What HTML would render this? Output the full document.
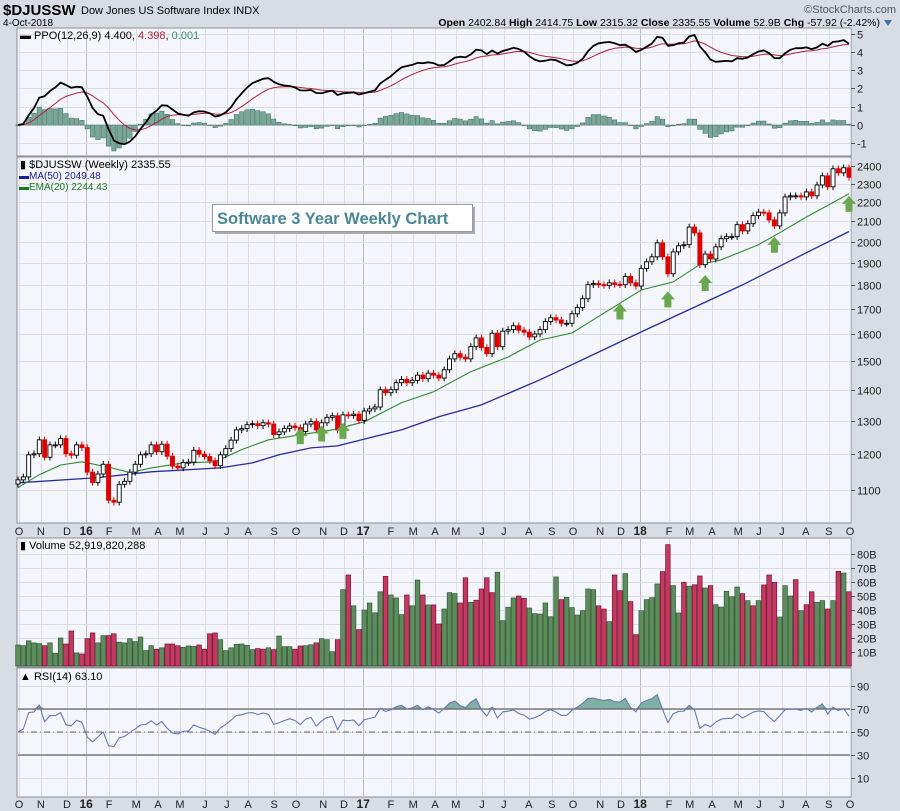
<!DOCTYPE html>
<html><head><meta charset="utf-8">
<style>
html,body{margin:0;padding:0;background:#d8dce4;}
svg{display:block;font-family:"Liberation Sans",sans-serif;}
</style></head>
<body>
<svg id="chart" width="900" height="811" viewBox="0 0 900 811" xmlns="http://www.w3.org/2000/svg">
  <rect x="0" y="0" width="900" height="811" fill="#d8dce4"/>
  <text x="3" y="15" font-size="15" font-weight="bold" fill="#000">$DJUSSW</text>
  <text x="81" y="14" font-size="11" fill="#000">Dow Jones US Software Index  INDX</text>
  <text x="3" y="26" font-size="10" fill="#000">4-Oct-2018</text>
  <text x="896" y="13" font-size="11" fill="#555" text-anchor="end">©StockCharts.com</text>
  <text x="880" y="26" font-size="10.5" fill="#000" text-anchor="end"><tspan font-weight="bold">Open</tspan> 2402.84 <tspan font-weight="bold">High</tspan> 2414.75 <tspan font-weight="bold">Low</tspan> 2315.32 <tspan font-weight="bold">Close</tspan> 2335.55 <tspan font-weight="bold">Volume</tspan> 52.9B <tspan font-weight="bold">Chg</tspan> -57.92 (-2.42%)</text>
  <path d="M884 20 L892 20 L888 26 Z" fill="#4a6fa5"/>
  <g id="layers"></g>
</svg>
<script>
// ---------- DATA ----------
const closes = [1127,1135,1197,1200,1241,1190,1226,1226,1245,1200,1196,1226,1218,1148,1120,1143,1170,1073,1068,1115,
1123,1148,1170,1197,1200,1226,1206,1228,1193,1165,1160,1175,1176,1210,1199,1192,1180,1166,1197,1215,
1240,1271,1275,1287,1290,1284,1293,1289,1257,1265,1275,1283,1278,1266,1289,1297,1271,1293,1310,1315,
1271,1318,1316,1320,1300,1330,1337,1343,1400,1390,1400,1424,1435,1424,1432,1450,1438,1457,1450,1440,
1469,1508,1527,1514,1508,1553,1586,1550,1527,1604,1553,1612,1618,1633,1616,1608,1590,1601,1618,1650,
1665,1656,1643,1643,1681,1706,1743,1803,1808,1803,1800,1811,1804,1803,1839,1811,1797,1875,1905,1928,
1994,1928,1851,1951,1980,1985,2071,2042,1892,1941,1918,1975,2014,2024,2024,2083,2052,2088,2129,2147,
2143,2107,2077,2143,2227,2233,2233,2227,2254,2233,2292,2343,2282,2383,2360,2389,2335];
const volumes = [15,14.5,18,16.5,16,14.5,16.5,9,20,15.7,25,9.3,8.6,19.5,23.6,16.5,21.7,21.7,23,17,
16.5,19.5,17.4,20.7,11,14.5,12,13,15.7,15.7,14.5,13.3,14.3,14,15,12,23,23.6,18.8,11,
13,15.5,15.7,14.8,11.7,12.4,12,13,11.7,21.4,13.8,13.8,12,14.3,14.5,15.2,16.5,19.5,18.8,10.2,
18.8,54.5,65,43,26,40,45,38,53,64,50.7,48.6,36.7,50.7,43,61.4,50.7,43.6,43.6,30,
40.7,52.4,51.7,45,63,45.5,47,55,63,52.4,67,32.4,42,48.6,50,48.3,41.4,37.4,37.1,45,35.2,
63.6,47.4,49,41.7,36.4,39.5,55,54.5,43,40.7,31.7,65,53.8,66,46,22.4,39.5,47.4,48.8,58.6,
67.4,86.7,57.4,37.9,59.8,57,58,64.3,55.7,57.4,43.8,42.1,53.3,49.5,56.4,51.7,46.7,43,46.7,57.9,
65,59.8,35,57.4,50,61.7,39.5,43.8,53,45.5,46.7,40.7,46.7,67.6,66.4,53];
const volumeUp = [1,1,1,1,1,0,1,1,1,0, 0,1,0,0,0,1,1,0,0,1, 1,1,1,1,1,1,0,1,0,0, 0,1,1,1,0,0,0,0,1,1,
1,1,1,1,1,0,0,1,0,1, 1,1,0,0,1,1,0,1,1,1, 0,1,0,1,0,1,1,1,1,0, 1,1,1,0,1,1,0,1,0,0,
1,1,1,0,0,1,0,0,0,0, 1,1,1,1,0,0,1,1,1,1,1, 1,0,1,1,1,1,1,1,0,0, 1,0,0,1,0,0,1,1,1,1,
0,0,1,1,0,1,0,0,1,0, 1,1,1,1,1,0,1,0,1,0, 0,0,1,1,1,0,1,0,0,1, 1,0,1,0,1,0];
const ma50Weeks = [0,15,25,38,44,49,55,60,66,72,79,87,98,117,136,148,156];
const ma50Vals  = [1119,1133,1149,1160,1174,1197,1217,1223,1247,1271,1312,1350,1434,1609,1802,1947,2049];
const ema20Weeks = [0,4,8,12,17,21,25,31,37,42,47,53,59,65,72,78,85,92,98,104,111,117,123,128,132,139,143,148,156];
const ema20Vals  = [1106,1141,1168,1177,1162,1147,1160,1174,1177,1212,1241,1256,1271,1296,1357,1393,1462,1515,1578,1605,1697,1780,1815,1892,1914,1985,2043,2122,2244];
const priceTicks = [1100,1200,1300,1400,1500,1600,1700,1800,1900,2000,2100,2200,2300,2400];
const ppoTicks = [-1,0,1,2,3,4,5];
const volTicks = [10,20,30,40,50,60,70,80];
const rsiTicks = [10,30,50,70,90];
const monthLabels = ["O","N","D","16","F","M","A","M","J","J","A","S","O","N","D","17","F","M","A","M","J","J","A","S","O","N","D","18","F","M","A","M","J","J","A","S","O"];
const monthWeeks = [0.2,4.3,9.2,12.8,17.1,22.2,26.3,30.4,35.1,39.2,43.2,48.1,52.2,57.3,61.2,64.8,70,74.2,78.3,82.2,87.1,91.2,95.9,100.2,104.2,109.3,113.2,116.8,122.2,126.1,130.3,135.2,139.1,143.4,147.9,152.2,156.2];
const arrowWeeks = [53,57,61,113,122,129,142,156];
const arrowPrices = [1252,1260,1268,1690,1740,1810,1985,2190];

// ---------- LAYOUT ----------
const NS = "http://www.w3.org/2000/svg";
const L = 17, R = 851;
const N = closes.length;
const step = (849 - 18) / (N - 1);
function xOf(i){ return 18 + i * step; }
const P = {top:157, bot:523};
function yPrice(p){ return 3399 - 415.4 * Math.log(p); }
const PP = {top:28, bot:156};
function yPPO(v){ return 125 - v * 18.3; }
const V = {top:538, bot:667};
function yVol(v){ return 666 - v * 1.4; }
const RS = {top:668, bot:797};
function yRSI(v){ return 789.5 - v * 1.15; }

const root = document.getElementById('layers');
function mk(tag, attrs, parent){
  const e = document.createElementNS(NS, tag);
  for (const k in attrs) e.setAttribute(k, attrs[k]);
  (parent || root).appendChild(e);
  return e;
}
function group(name){
  const g = mk('g', {});
  
  
  return g;
}

// ---------- PANELS ----------
function panel(name, top, bot){
  const g = group(name);
  const r = mk('rect', {x:L, y:top, width:R-L, height:bot-top, fill:'#f4f6fb', stroke:'#8a8f99', 'stroke-width':1}, g);
  
  
  monthWeeks.forEach((w, k) => {
    const x = Math.round(xOf(w)) + 0.5;
    const yr = /^\d/.test(monthLabels[k]);
    const ln = mk('line', {x1:x, x2:x, y1:top+1, y2:bot-1, stroke: yr ? '#b8bcc6' : '#dadde4', 'stroke-width':1}, g);
    
    
  });
  return g;
}
const gPPO = panel('ppo-panel', PP.top, PP.bot);
const gPrice = panel('price-panel', P.top, P.bot);
const gVol = panel('volume-panel', V.top, V.bot);
const gRSI = panel('rsi-panel', RS.top, RS.bot);

function hgrid(g, ticks, yf, fmt, name){
  ticks.forEach(t => {
    const y = Math.round(yf(t)) + 0.5;
    const ln = mk('line', {x1:L+1, x2:R-1, y1:y, y2:y, stroke:'#dadde4', 'stroke-width':1}, g);
    
    
    const tk = mk('line', {x1:R, x2:R+4, y1:y, y2:y, stroke:'#555', 'stroke-width':1}, g);
    
    
    const tx = mk('text', {x:R+6, y:y+4, 'font-size':11, fill:'#222'}, g);
    tx.textContent = fmt(t);
    
    
  });
}
hgrid(gPrice, priceTicks, yPrice, t => String(t), 'price-axis');
hgrid(gPPO, ppoTicks, yPPO, t => String(t), 'ppo-axis');
hgrid(gVol, volTicks, yVol, t => t + 'B', 'volume-axis');
hgrid(gRSI, rsiTicks, yRSI, t => String(t), 'rsi-axis');

function monthRow(y, name){
  const g = group(name);
  monthLabels.forEach((m, k) => {
    const t = mk('text', {x:xOf(monthWeeks[k]), y:y, 'font-size': /^\d/.test(m) ? 12 : 11, 'font-weight': /^\d/.test(m) ? 'bold' : 'normal', fill:'#222', 'text-anchor':'middle'}, g);
    t.textContent = m;
    
    
  });
}
monthRow(535, 'price-x-axis-labels');
monthRow(808, 'rsi-x-axis-labels');

// ---------- PPO ----------
const e12 = [], e26 = [], ppo = [], sig = [], hist = [];
closes.forEach((c, i) => {
  e12[i] = i ? e12[i-1] + (2/13)*(c - e12[i-1]) : c;
  e26[i] = i ? e26[i-1] + (2/27)*(c - e26[i-1]) : c;
  ppo[i] = (e12[i] - e26[i]) / e26[i] * 100;
  sig[i] = i ? sig[i-1] + (2/10)*(ppo[i] - sig[i-1]) : ppo[i];
  hist[i] = ppo[i] - sig[i];
});
hist.forEach((h, i) => {
  const y0 = yPPO(0), y1 = yPPO(h);
  const b = mk('rect', {x:xOf(i)-2.2, y:Math.min(y0,y1), width:4.4, height:Math.max(0.5, Math.abs(y1-y0)), fill:'#79a899', stroke:'#467566', 'stroke-width':0.6}, gPPO);
  
  
});
function polyline(g, vals, xf, yf, color, w, name){
  const pts = vals.map((v, i) => xf(i).toFixed(1) + ',' + yf(v).toFixed(1)).join(' ');
  const p = mk('polyline', {points:pts, fill:'none', stroke:color, 'stroke-width':w, 'stroke-linejoin':'round'}, g);
  
  
  return p;
}
polyline(gPPO, sig, xOf, yPPO, '#b0203c', 1, 'ppo-signal-line');
polyline(gPPO, ppo, xOf, yPPO, '#000', 1.8, 'ppo-line');
{
  const t = mk('text', {x:20, y:39, 'font-size':11, fill:'#000'}, gPPO);
  t.innerHTML = '<tspan font-weight="bold">▬</tspan> PPO(12,26,9) 4.400, <tspan fill="#b0203c">4.398</tspan>, <tspan fill="#3a8a6a">0.001</tspan>';
  
  
}

// ---------- PRICE ----------
function sparseLine(g, weeks, vals, color, w, name){
  const pts = weeks.map((wk, k) => xOf(wk).toFixed(1) + ',' + yPrice(vals[k]).toFixed(1)).join(' ');
  const p = mk('polyline', {points:pts, fill:'none', stroke:color, 'stroke-width':w}, g);
  
  
}
sparseLine(gPrice, ma50Weeks, ma50Vals, '#2a2a9c', 1.3, 'ma50-line');
sparseLine(gPrice, ema20Weeks, ema20Vals, '#2e8a2e', 1.1, 'ema20-line');

closes.forEach((c, i) => {
  const o = i ? closes[i-1] : c * 0.99;
  const up = c >= o;
  const hi = Math.max(o, c) * 1.008, lo = Math.min(o, c) * 0.992;
  const col = up ? '#000' : '#e00000';
  const x = xOf(i);
  const wk = mk('line', {x1:x, x2:x, y1:yPrice(hi), y2:yPrice(lo), stroke:col, 'stroke-width':1}, gPrice);
  
  
  const yt = yPrice(Math.max(o, c)), yb = yPrice(Math.min(o, c));
  const bd = mk('rect', {x:x-2, y:yt, width:4, height:Math.max(1, yb-yt), fill: up ? '#fff' : '#e00000', stroke:col, 'stroke-width':0.9}, gPrice);
  
  
});

arrowWeeks.forEach((w, k) => {
  const x = xOf(w), y = yPrice(arrowPrices[k]);
  const a = mk('path', {d:`M${x} ${y-8} L${x+7} ${y} L${x+3.5} ${y} L${x+3.5} ${y+8} L${x-3.5} ${y+8} L${x-3.5} ${y} L${x-7} ${y} Z`, fill:'#6aa84f'}, gPrice);
  
  
});

{
  const t = mk('text', {x:20, y:168, 'font-size':11, fill:'#000'}, gPrice);
  t.textContent = '▮ $DJUSSW (Weekly) 2335.55';
  
  
  const t2 = mk('text', {x:19, y:179, 'font-size':10, fill:'#1a1a9c'}, gPrice);
  t2.textContent = '▬MA(50) 2049.48';
  
  
  const t3 = mk('text', {x:19, y:190, 'font-size':10, fill:'#1a7a1a'}, gPrice);
  t3.textContent = '▬EMA(20) 2244.43';
  
  
  const sh = mk('rect', {x:215, y:207, width:260, height:27, fill:'#aaa'}, gPrice);
  
  
  const bx = mk('rect', {x:212.5, y:204.5, width:260, height:27, fill:'#fff', stroke:'#999'}, gPrice);
  
  
  const at = mk('text', {x:217, y:224, 'font-size':16.5, 'font-weight':'bold', fill:'#4a8796'}, gPrice);
  at.textContent = 'Software 3 Year Weekly Chart';
  
  
}

// ---------- VOLUME ----------
volumes.forEach((v, i) => {
  const up = volumeUp[i] === 1;
  const b = mk('rect', {x:xOf(i)-2.3, y:yVol(v), width:4.6, height:666 - yVol(v), fill: up ? '#5e8c5e' : '#c23a62', stroke: up ? '#2f5a2f' : '#7a1030', 'stroke-width':0.7}, gVol);
  
  
});
{
  const t = mk('text', {x:20, y:549, 'font-size':11, fill:'#000'}, gVol);
  t.textContent = '▮ Volume 52,919,820,288';
  
  
}

// ---------- RSI ----------
const rsi = [];
let ag = closes[0]*0.005, al = closes[0]*0.005;
closes.forEach((c, i) => {
  if (i) {
    const d = c - closes[i-1];
    ag = (ag*13 + Math.max(d,0))/14;
    al = (al*13 + Math.max(-d,0))/14;
  }
  rsi[i] = 100 - 100/(1 + ag/al);
});
{
  let d = '';
  rsi.forEach((v, i) => { d += (i ? 'L' : 'M') + xOf(i).toFixed(1) + ' ' + yRSI(Math.max(v,70)).toFixed(1) + ' '; });
  d += 'L' + xOf(N-1) + ' ' + yRSI(70) + ' L' + xOf(0) + ' ' + yRSI(70) + ' Z';
  const f = mk('path', {d:d, fill:'#7fb0a4', stroke:'none'}, gRSI);
  
  
  [70,30].forEach(lv => {
    const ln = mk('line', {x1:L+1, x2:R-1, y1:yRSI(lv), y2:yRSI(lv), stroke:'#666', 'stroke-width':1.2}, gRSI);
    
    
  });
  const mid = mk('line', {x1:L+1, x2:R-1, y1:yRSI(50), y2:yRSI(50), stroke:'#666', 'stroke-width':1, 'stroke-dasharray':'6 3 1 3'}, gRSI);
  
  
  polyline(gRSI, rsi, xOf, yRSI, '#6a78b0', 1.1, 'rsi-line');
  const t = mk('text', {x:20, y:680, 'font-size':11, fill:'#000'}, gRSI);
  t.textContent = '▲ RSI(14) 63.10';
  
  
}
</script>
</body></html>
